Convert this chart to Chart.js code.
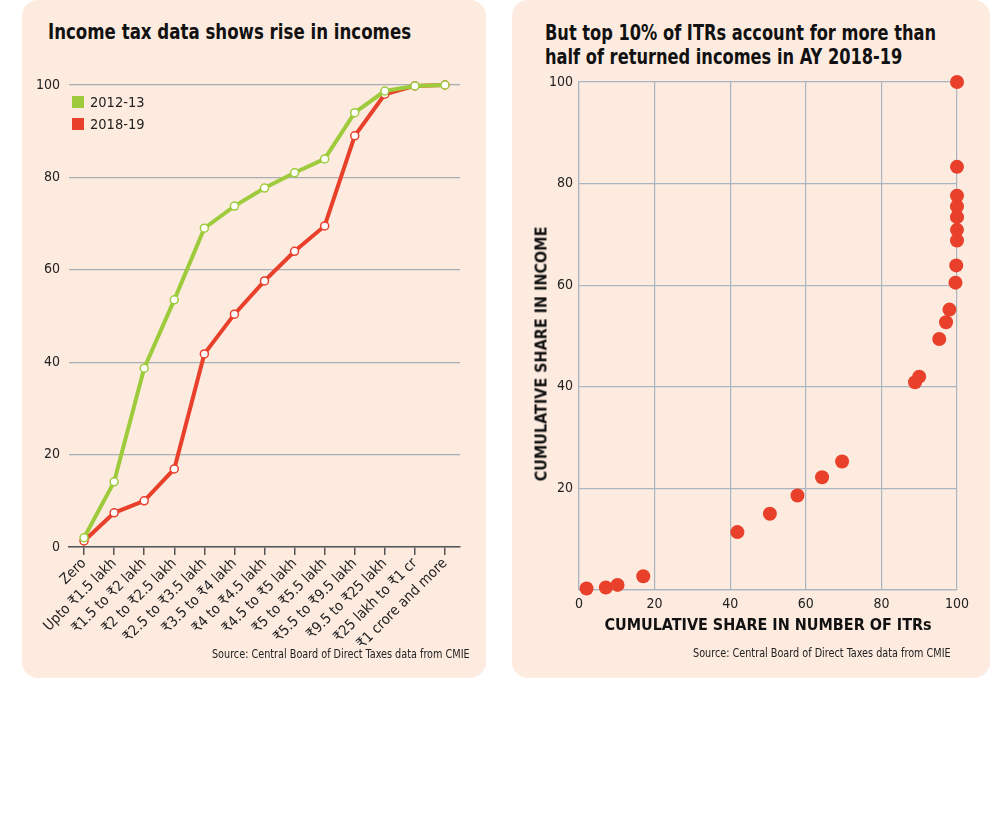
<!DOCTYPE html>
<html>
<head>
<meta charset="utf-8">
<script src="https://cdn.jsdelivr.net/npm/chart.js@4.4.0/dist/chart.umd.min.js"></script>
<style>
  body { margin: 0; background: #fff; width: 990px; height: 813px; position: relative; overflow: hidden;
         font-family: "Liberation Sans Narrow", "DejaVu Sans Condensed", sans-serif; }
  .panel { position: absolute; top: 0; height: 678px; background: #fdebe0; border-radius: 16px; }
  .title { position: absolute; font-weight: bold; font-size: 22px; line-height: 24px; color: #111;
           white-space: nowrap; transform-origin: left top; }
  .source { position: absolute; font-size: 12.5px; color: #222; white-space: nowrap; transform: scaleX(0.86); }
  .legend { position: absolute; font-size: 14.5px; color: #222; }
  .legend div { height: 22px; line-height: 22px; }
  .legend span { display: inline-block; width: 12px; height: 12px; margin-right: 6px; vertical-align: -1px; }
  .ytitle { position: absolute; font-weight: bold; font-size: 16px; color: #111; white-space: nowrap;
            transform: translate(-50%, -50%) rotate(-90deg); }
  canvas { position: absolute; }
</style>
</head>
<body>
<div class="panel" style="left:22px; width:464px;"></div>
<div class="panel" style="left:512px; width:478px;"></div>

<div class="title" style="left:48px; top:20px; transform:scaleX(0.84);">Income tax data shows rise in incomes</div>
<div class="title" style="left:545px; top:21px; transform:scaleX(0.82);">But top 10% of ITRs account for more than<br>half of returned incomes in AY 2018-19</div>

<div style="position:absolute; left:22px; top:60px; width:464px; height:590px;"><canvas id="lineChart"></canvas></div>
<div style="position:absolute; left:512px; top:60px; width:478px; height:577px;"><canvas id="scatterChart"></canvas></div>

<div class="legend" style="left:72px; top:91px;">
  <div><span style="background:#9dcb3b"></span>2012-13</div>
  <div><span style="background:#e8402a"></span>2018-19</div>
</div>

<div class="ytitle" style="left:541px; top:354px;">CUMULATIVE SHARE IN INCOME</div>

<div class="source" style="right:520px; top:646px; transform-origin:right top;">Source: Central Board of Direct Taxes data from CMIE</div>
<div class="source" style="left:693px; top:645px; transform-origin:left top;">Source: Central Board of Direct Taxes data from CMIE</div>

<script>
const incomeGroups = ['Zero', 'Upto ₹1.5 lakh', '₹1.5 to ₹2 lakh', '₹2 to ₹2.5 lakh', '₹2.5 to ₹3.5 lakh',
    '₹3.5 to ₹4 lakh', '₹4 to ₹4.5 lakh', '₹4.5 to ₹5 lakh', '₹5 to ₹5.5 lakh', '₹5.5 to ₹9.5 lakh',
    '₹9.5 to ₹25 lakh', '₹25 lakh to ₹1 cr', '₹1 crore and more'];
const share2012 = [2, 14.1, 38.7, 53.5, 69, 73.8, 77.7, 81, 84, 94, 98.7, 99.8, 100];
const share2018 = [1.3, 7.4, 10, 16.9, 41.8, 50.4, 57.6, 64, 69.5, 89, 98, 99.8, 100];

// AY 2018-19, cumulative share of ITRs vs cumulative share of income
const itrShare = [2, 7.1, 10.2, 17, 41.9, 50.5, 57.8, 64.3, 69.6, 88.9, 90, 95.3, 97.1, 98, 99.6, 99.8,
    100, 100, 100, 100, 100, 100, 100];
const incomeShare = [0.3, 0.5, 1, 2.7, 11.4, 15, 18.6, 22.2, 25.3, 40.9, 42, 49.4, 52.7, 55.2, 60.5, 63.9,
    68.8, 70.9, 73.4, 75.5, 77.6, 83.3, 100];

const axisTicks = [0, 20, 40, 60, 80, 100];

const FONT = '"Liberation Sans Narrow", "DejaVu Sans Condensed", sans-serif';
const GREEN = '#9dcb3b';
const RED = '#e8402a';

Chart.defaults.font.family = FONT;
Chart.defaults.color = '#222';

function lineSet(label, data, color) {
    return {
        label: label,
        data: data,
        borderColor: color,
        borderWidth: 4,
        pointRadius: 4,
        pointBorderWidth: 1.5,
        pointBackgroundColor: '#fff',
        pointBorderColor: color,
        tension: 0,
        clip: false
    };
}

new Chart(document.getElementById('lineChart'), {
    type: 'line',
    data: {
        labels: incomeGroups,
        datasets: [lineSet('2012-13', share2012, GREEN), lineSet('2018-19', share2018, RED)]
    },
    options: {
        responsive: true,
        maintainAspectRatio: false,
        animation: false,
        layout: { padding: { top: 25, right: 26, left: 0, bottom: 0 } },
        plugins: { legend: { display: false }, tooltip: { enabled: false } },
        scales: {
            x: {
                offset: true,
                grid: { drawOnChartArea: false, drawTicks: true, tickLength: 8, color: '#555', lineWidth: 1.5 },
                border: { color: '#555', width: 1.5 },
                ticks: { autoSkip: false, minRotation: 45, maxRotation: 45, padding: 0, font: { size: 14.5 }, color: '#222' },
                afterFit: s => { s.height = 103; }
            },
            y: {
                min: 0, max: 100,
                afterBuildTicks: s => { s.ticks = axisTicks.map(v => ({ value: v })); },
                grid: { color: '#a9aeb3', lineWidth: 1.2, drawTicks: false },
                border: { display: false },
                ticks: { padding: 9, font: { size: 14 }, color: '#222' },
                afterFit: s => { s.width = 47; }
            }
        }
    }
});

new Chart(document.getElementById('scatterChart'), {
    type: 'scatter',
    data: {
        datasets: [{
            data: itrShare.map((x, i) => ({ x: x, y: incomeShare[i] })),
            backgroundColor: RED,
            borderWidth: 0,
            pointRadius: 7,
            clip: false
        }]
    },
    options: {
        responsive: true,
        maintainAspectRatio: false,
        animation: false,
        layout: { padding: { top: 22, right: 33, left: 20, bottom: 0 } },
        plugins: { legend: { display: false }, tooltip: { enabled: false } },
        scales: {
            x: {
                min: 0, max: 100,
                afterBuildTicks: s => { s.ticks = axisTicks.map(v => ({ value: v })); },
                grid: { color: '#a9b6c2', lineWidth: 1.2, drawTicks: false },
                border: { color: '#a9b6c2', width: 1.2 },
                ticks: { padding: 6, font: { size: 14 }, color: '#222' },
                title: { display: true, text: 'CUMULATIVE SHARE IN NUMBER OF ITRs', font: { size: 16, weight: 'bold' }, color: '#111', padding: { top: 2, bottom: 2 } },
                afterFit: s => { s.height = 47; }
            },
            y: {
                min: 0, max: 100,
                afterBuildTicks: s => { s.ticks = axisTicks.map(v => ({ value: v })); },
                grid: { color: '#a9b6c2', lineWidth: 1.2, drawTicks: false },
                border: { color: '#a9b6c2', width: 1.2 },
                ticks: { padding: 6, font: { size: 14 }, color: '#222', callback: v => v === 0 ? '' : v },
                afterFit: s => { s.width = 47; }
            }
        }
    }
});
</script>
</body>
</html>
